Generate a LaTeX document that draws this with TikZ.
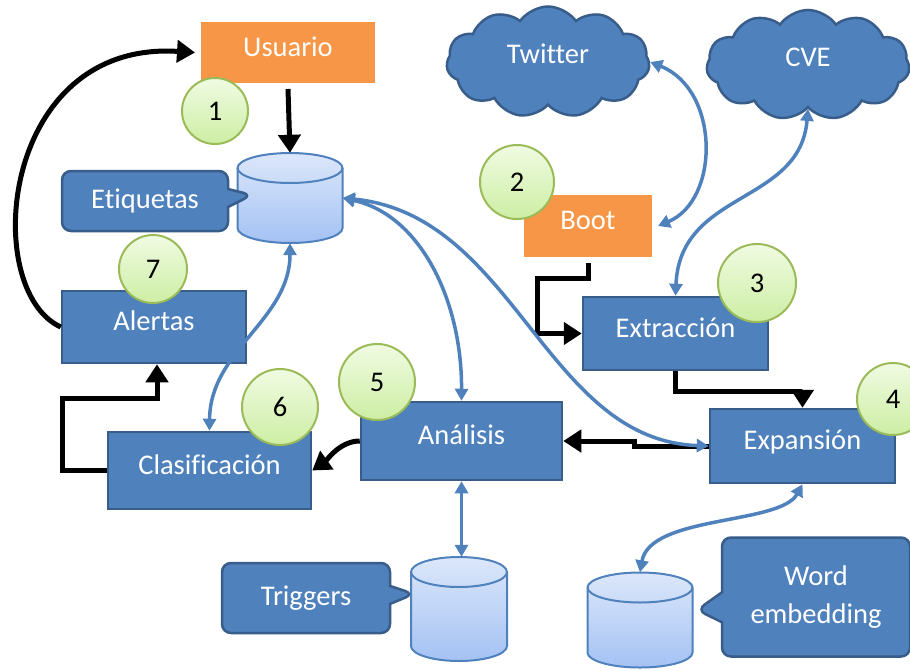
\documentclass[tikz,border=0pt]{standalone}
\usepackage{fontspec}
\setmainfont{Carlito}[Ligatures=NoCommon]
\usetikzlibrary{arrows.meta,shapes.symbols,shapes.callouts,shadows}

\definecolor{azul}{HTML}{4F81BD}
\definecolor{azulborde}{HTML}{385D8A}
\definecolor{naranja}{HTML}{F79646}
\definecolor{verdeborde}{HTML}{9BBB59}
\definecolor{verdeclaro}{HTML}{F0FBE2}
\definecolor{verdeosc}{HTML}{CDEEA4}
\definecolor{cilclaro}{HTML}{DCE7FA}
\definecolor{cilosc}{HTML}{A4C2F4}

\def\puntaneg{Triangle[length=18pt,width=22pt]}
\def\puntaazul{Triangle[length=12pt,width=13pt]}
\def\tapa{15}

\begin{document}
\begin{tikzpicture}[x=1pt,y=-1pt,
    font=\fontsize{28.5}{38}\selectfont,
    caja/.style={rectangle, fill=azul, draw=azulborde, line width=2.5pt, text=white,
        text height=17pt, text depth=10pt, inner sep=0pt},
    cajanaranja/.style={rectangle, fill=naranja, draw=white, line width=6pt, text=white,
        text height=17pt, text depth=10pt, inner sep=0pt,
        drop shadow={opacity=0.15,shadow xshift=1.5pt,shadow yshift=-1.5pt}},
    nube/.style={cloud, cloud puffs=11, cloud puff arc=110, aspect=1.9, fill=azul,
        draw=azulborde, line width=2.5pt, text=white, inner sep=0pt,
        text height=17pt, text depth=14pt},
    cilindro/.style={draw=azul, line width=2pt, top color=cilclaro, bottom color=cilosc},
    nota/.style={rectangle callout, fill=azul, draw=azulborde, line width=2.5pt,
        rounded corners=9pt, text=white, inner sep=0pt, callout pointer width=18pt},
    numero/.style={circle, draw=verdeborde, line width=2pt, top color=verdeclaro,
        bottom color=verdeosc, inner sep=0pt, text=black},
    negra/.style={line width=5pt, -{\puntaneg}},
    doble/.style={draw=azul, line width=3.5pt, {\puntaazul}-{\puntaazul}}
]
\path[use as bounding box, fill=white] (0,0) rectangle (910,670);

%nubes
\node[nube, minimum width=203pt, minimum height=111pt] (twitter) at (548,62) {Twitter};
\node[nube, minimum width=203pt, minimum height=110pt] (cve) at (808,65) {CVE};

%cajas
\node[cajanaranja, minimum width=180pt, minimum height=67pt] (usuario) at (288,52.5) {Usuario};
\node[cajanaranja, minimum width=134pt, minimum height=68pt] (boot) at (588,226) {Boot};
\node[caja, minimum width=184pt, minimum height=72pt] (alertas) at (154,327) {Alertas};
\node[caja, minimum width=203pt, minimum height=77pt] (clasif) at (209.5,470.5) {Clasificación};
\node[caja, minimum width=201pt, minimum height=78pt] (analisis) at (461.5,441) {Análisis};
\node[caja, minimum width=185pt, minimum height=73pt] (extraccion) at (675.5,333.5) {Extracción};
\node[caja, minimum width=185pt, minimum height=74pt] (expansion) at (802.5,446) {Expansión};

%bases de datos
\foreach \nom/\x/\y/\w/\h in {etq/290/198/105/90,trig/459/609/96/104,word/640/620/105/95} {
    \node[minimum width=\w pt, minimum height=\h pt, inner sep=0pt] (\nom) at (\x,\y) {};
    \path[cilindro] (\x-\w/2,\y-\h/2+\tapa) -- (\x-\w/2,\y+\h/2-\tapa)
        arc[start angle=180, end angle=0, x radius=\w/2, y radius=\tapa]
        -- (\x+\w/2,\y-\h/2+\tapa)
        arc[start angle=0, end angle=-180, x radius=\w/2, y radius=\tapa] -- cycle;
    \draw[azul, line width=2pt] (\x-\w/2,\y-\h/2+\tapa)
        arc[start angle=180, end angle=0, x radius=\w/2, y radius=\tapa];
}

\node[nota, minimum width=166pt, minimum height=60pt,
    callout absolute pointer={(252,195)}] (etqnota) at (145,201) {Etiquetas};
\node[nota, minimum width=168pt, minimum height=70pt,
    callout absolute pointer={(414,594)}] (trignota) at (306,598) {Triggers};
\node[nota, minimum width=188pt, minimum height=119pt, align=center, callout pointer width=30pt,
    callout absolute pointer={(697,610)}] (wordnota) at (816,597) {Word\\embedding};

%flechas negras
\draw[negra] (usuario.south) -- (etq.north);
\draw[negra] (alertas.west) .. controls (-20,290) and (0,40) .. (usuario.west);
\draw[negra] (clasif.west) -| (62,398) -| ([xshift=3pt]alertas.south);
\draw[negra] (analisis.west) .. controls (340,441) and (327,460) .. (clasif.east);
\draw[negra] (expansion.west) -- ++(-74,0) |- (analisis.east);
\draw[negra] (boot.south) |- (537,278) |- (extraccion.west);
\draw[negra] (extraccion.south) -- ++(0,20) -| (expansion.north);

%flechas azules
\draw[doble] (twitter.east) .. controls (720,90) and (720,200) .. (boot.east);
\draw[doble] (cve.south) .. controls (800,205) and (680,190) .. (extraccion.north);
\draw[doble] (etq.south) .. controls (290,320) and (210,350) .. (clasif.north);
\draw[doble] (etq.east) .. controls (420,215) and (462,300) .. (analisis.north);
\draw[doble] (etq.east) .. controls (515,215) and (545,440) .. (expansion.west);
\draw[doble] (analisis.south) -- (analisis.south |- trig.north);
\draw[doble] (expansion.south) .. controls (780,525) and (650,515) .. (word.north);

%pasos
\foreach \n/\x/\y/\r in {1/215/111/33,2/517/182/37,3/757/283/39,4/893/399/36,
        5/377/382/38,6/280/407/38,7/153/269/34}
    \node[numero, minimum size=2*\r pt] (paso\n) at (\x,\y) {\n};

\end{tikzpicture}
\end{document}
